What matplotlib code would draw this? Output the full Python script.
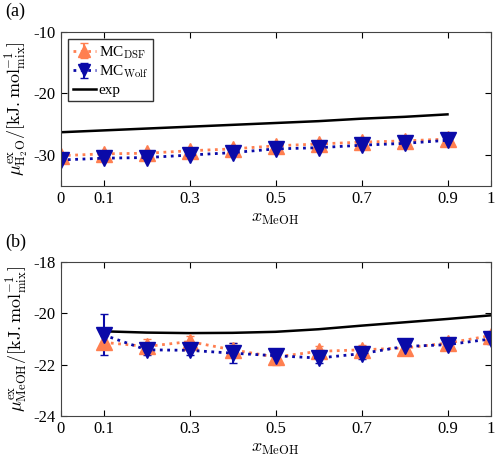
import numpy as np
import matplotlib
matplotlib.use('Agg')
import matplotlib.pyplot as plt

plt.rcParams['font.family'] = 'serif'
plt.rcParams['font.serif'] = ['Liberation Serif', 'DejaVu Serif']
plt.rcParams['mathtext.fontset'] = 'cm'
plt.rcParams['font.size'] = 11

orange = '#FF7F50'
blue = '#0A0AA8'

# panel (a): water
x_a = [0, 0.1, 0.2, 0.3, 0.4, 0.5, 0.6, 0.7, 0.8, 0.9]
dsf_a = [-30.1, -29.8, -29.7, -29.3, -29.0, -28.5, -28.2, -27.9, -27.7, -27.4]
dsf_a_err = [0.3, 0.3, 0.3, 0.3, 0.3, 0.3, 0.3, 0.3, 0.3, 0.3]
wolf_a = [-30.8, -30.5, -30.4, -30.0, -29.6, -29.0, -28.8, -28.4, -28.1, -27.6]
wolf_a_err = [0.3, 0.3, 0.3, 0.3, 0.3, 0.3, 0.3, 0.3, 0.3, 0.3]
exp_a = [-26.3, -26.0, -25.7, -25.4, -25.1, -24.8, -24.5, -24.1, -23.8, -23.4]

# panel (b): methanol
x_b = [0.1, 0.2, 0.3, 0.4, 0.5, 0.6, 0.7, 0.8, 0.9, 1.0]
dsf_b = [-21.13, -21.29, -21.1, -21.42, -21.7, -21.48, -21.42, -21.35, -21.16, -20.87]
dsf_b_err = [0.25, 0.3, 0.2, 0.25, 0.3, 0.2, 0.2, 0.2, 0.2, 0.2]
wolf_b = [-20.84, -21.42, -21.44, -21.55, -21.65, -21.74, -21.57, -21.29, -21.22, -21.0]
wolf_b_err = [0.8, 0.2, 0.2, 0.4, 0.2, 0.2, 0.2, 0.2, 0.2, 0.2]
exp_b = [-20.70, -20.75, -20.77, -20.76, -20.72, -20.62, -20.48, -20.35, -20.22, -20.08]

xticks = [0, 0.1, 0.3, 0.5, 0.7, 0.9, 1]
xticklabels = ['0', '0.1', '0.3', '0.5', '0.7', '0.9', '1']

fig = plt.figure(figsize=(5, 4.66), dpi=100)
ax1 = fig.add_axes([0.121, 0.601, 0.860, 0.331])
ax2 = fig.add_axes([0.121, 0.107, 0.860, 0.331])

handles = []
for ax, x, d, de, w, we, e in [(ax1, x_a, dsf_a, dsf_a_err, wolf_a, wolf_a_err, exp_a),
                               (ax2, x_b, dsf_b, dsf_b_err, wolf_b, wolf_b_err, exp_b)]:
    h1 = ax.errorbar(x, d, yerr=de, fmt='^:', color=orange, markersize=11, linewidth=2,
                     capsize=3, elinewidth=1.5, label=r'MC$_{\rm DSF}$')
    h2 = ax.errorbar(x, w, yerr=we, fmt='v:', color=blue, markersize=11, linewidth=2,
                     capsize=3, elinewidth=1.5, label=r'MC$_{\rm Wolf}$')
    h3, = ax.plot(x, e, '-', color='black', linewidth=1.8, label='exp')
    handles.append([h1, h2, h3])
    ax.set_xlim(0, 1)
    ax.set_xticks(xticks)
    ax.set_xticklabels(xticklabels)
    ax.tick_params(direction='in', top=True, right=True, length=4, labelsize=12)
    for s in ax.spines.values():
        s.set_color('#444444')
    ax.set_xlabel(r'$x_{\rm MeOH}$', fontsize=13, labelpad=2)

ax1.set_ylim(-35, -10)
ax1.set_yticks([-10, -20, -30])
ax1.set_yticklabels(['-10', '-20', '-30'])
ax1.set_ylabel(r'$\mu^{\rm ex}_{\rm H_2O}/[{\rm kJ.mol}^{-1}_{\rm mix}]$', fontsize=13, labelpad=2)
ax1.legend(handles=handles[0], loc='upper left', fancybox=False, edgecolor='#333333', framealpha=1,
           handlelength=1.5, handletextpad=0.2, borderpad=0.3, labelspacing=0.2, fontsize=11,
           markerscale=0.8)

ax2.set_ylim(-24, -18)
ax2.set_yticks([-24, -22, -20, -18])
ax2.set_yticklabels(['-24', '-22', '-20', '-18'])
ax2.set_ylabel(r'$\mu^{\rm ex}_{\rm MeOH}/[{\rm kJ.mol}^{-1}_{\rm mix}]$', fontsize=13, labelpad=2)

fig.text(0.01, 0.975, '(a)', fontsize=13, va='center')
fig.text(0.01, 0.48, '(b)', fontsize=13, va='center')

fig.savefig('out.png', dpi=100)
